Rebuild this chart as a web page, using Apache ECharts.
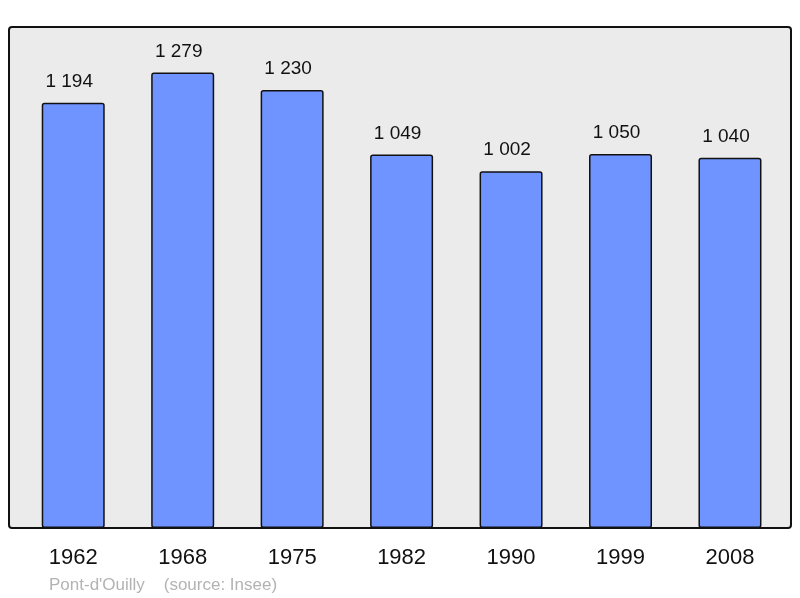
<!DOCTYPE html>
<html>
<head>
<meta charset="utf-8">
<script src="https://cdn.jsdelivr.net/npm/echarts@6/dist/echarts.min.js"></script>
<style>html,body{margin:0;padding:0;background:#fff}#c{width:800px;height:598px}</style>
</head>
<body>
<div id="c"></div>
<script>
const years = ['1962','1968','1975','1982','1990','1999','2008'];
const population = [1194, 1279, 1230, 1049, 1002, 1050, 1040];
const footer = "Pont-d'Ouilly    (source: Insee)";

const chart = echarts.init(document.getElementById('c'), null, {renderer: 'canvas'});
const fmt = v => String(v).replace(/\B(?=(\d{3})+(?!\d))/g, ' ');
chart.setOption({
  animation: false,
  backgroundColor: '#ffffff',
  graphic: [
    {type: 'rect', z: -10, shape: {x: 9, y: 27, width: 782, height: 501, r: 3},
     style: {fill: '#ebebeb', stroke: '#111', lineWidth: 2}},
    {type: 'text', left: 49, top: 577,
     style: {text: footer, fill: '#b3b3b3', font: '17px "Liberation Sans", Arial, sans-serif'}}
  ],
  grid: {left: 18.5, right: 15.3, top: 27, bottom: 70},
  xAxis: {
    type: 'category', data: years,
    axisLine: {show: false}, axisTick: {show: false},
    axisLabel: {color: '#111', fontSize: 22, margin: 19, fontFamily: '"Liberation Sans", Arial, sans-serif'}
  },
  yAxis: {
    type: 'value', min: 0, max: 1407,
    show: false, splitLine: {show: false}
  },
  series: [{
    type: 'bar', data: population, barWidth: 63,
    itemStyle: {color: '#7094ff', borderColor: '#111', borderWidth: 1.5, borderRadius: 2},
    label: {show: true, position: 'top', distance: 11.5, offset: [-4, 0], color: '#111', fontSize: 19,
      fontFamily: '"Liberation Sans", Arial, sans-serif',
      formatter: p => fmt(p.value)}
  }]
});
</script>
</body>
</html>
